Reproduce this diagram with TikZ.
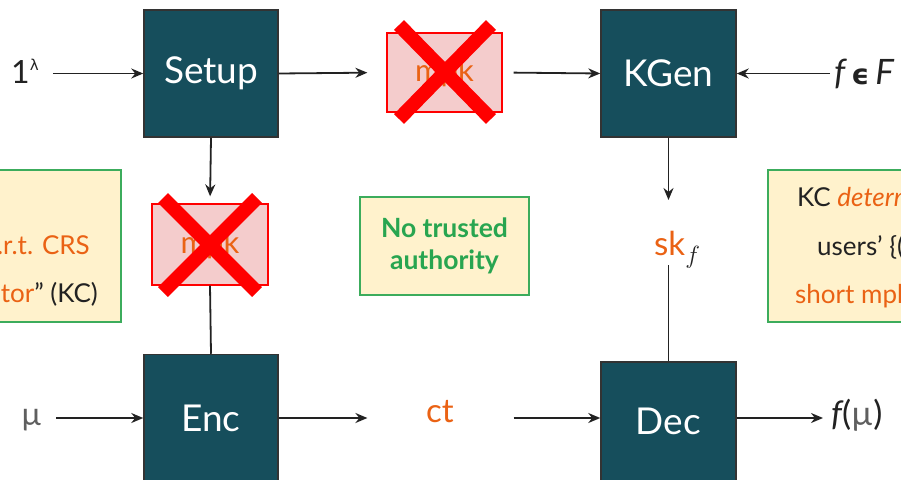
\documentclass[tikz,border=0pt]{standalone}
\usepackage{fontspec}
\setmainfont{Lato}
\newfontfamily\dejavu{DejaVu Sans}
\usetikzlibrary{arrows.meta}
\definecolor{boxteal}{RGB}{22,78,92}
\definecolor{orng}{RGB}{234,98,20}
\definecolor{notegreen}{RGB}{60,172,92}
\definecolor{notetext}{RGB}{40,165,80}
\definecolor{noteyellow}{RGB}{255,242,204}
\definecolor{mpkfill}{RGB}{244,204,204}
\definecolor{ink}{RGB}{34,34,34}
\definecolor{mugray}{RGB}{95,95,95}
\tikzset{
  blk/.style={draw=black!80, line width=1.5pt, fill=boxteal, text=white,
    font=\fontsize{37}{42}\selectfont, inner sep=0pt,
    minimum width=134pt, minimum height=127pt},
  arr/.style={-{Stealth[length=12pt,width=10pt]}, line width=1.8pt, draw=ink},
  ln/.style={line width=1.8pt, draw=ink},
  lbl/.style={inner sep=0pt, text=ink, font=\fontsize{32}{36}\selectfont},
  notetxt/.style={inner sep=0pt, text=ink, font=\fontsize{26}{30}\selectfont},
  mpkbox/.style={draw=red, line width=1.2pt, fill=mpkfill, text=orng,
    font=\fontsize{31}{36}\selectfont, inner sep=0pt},
  xline/.style={draw=red, line width=14pt},
  note/.style={draw=notegreen, line width=1.6pt, fill=noteyellow, inner sep=0pt}
}
\begin{document}
\begin{tikzpicture}[x=1pt,y=-1pt]
\useasboundingbox (0,0) rectangle (901,479);
\clip (0,0) rectangle (901,479);

% notes
\node[note, minimum width=190pt, minimum height=152pt] (lnote) at (26,246) {};
\node[note, minimum width=200pt, minimum height=152pt] (rnote) at (868,246) {};
\node[note, minimum width=169pt, minimum height=98pt, text=notetext,
  font=\fontsize{26.5}{32}\selectfont\bfseries, align=center] (trust) at (444.5,246)
  {No trusted\\authority};

\node[notetxt, anchor=base east] (l2) at (90,254) {\color{orng}w.r.t. CRS};
\node[notetxt, anchor=base east] (l3) at (98,302) {\color{orng}tor\color{ink}” (KC)};
\node[notetxt, anchor=base west] (r1) at (797,206) {KC \textcolor{orng}{\itshape determ}};
\node[notetxt, anchor=base west] (r2) at (817,255) {users’ \{(};
\node[notetxt, anchor=base west] (r3) at (795,303) {\color{orng}short mpk};

% main boxes
\node[blk] (setup) at (211,73.5) {Setup};
\node[blk, minimum width=135pt] (kgen) at (668.5,73.5) {KGen};
\node[blk] (enc) at (211,418) {Enc};
\node[blk, minimum width=135pt, minimum height=126pt] (dec) at (668.5,425) {\raisebox{7pt}{Dec}};

% crossed mpk boxes
\node[mpkbox, minimum width=115pt, minimum height=79pt] (mpk1) at (444.5,72.5) {mpk};
\node[mpkbox, minimum width=116pt, minimum height=81pt] (mpk2) at (210,244.5) {mpk};
\draw[xline] (399,25) -- (491,119);
\draw[xline] (491,25) -- (399,119);
\draw[xline] (163,198) -- (257,292);
\draw[xline] (257,198) -- (163,292);

% labels
\node[lbl, anchor=base west] (one) at (11,83) {1\raisebox{13pt}{\fontsize{15}{16}\selectfont\dejavu λ}};
\node[lbl, anchor=base west, font=\fontsize{35}{38}\selectfont] (fF) at (834,84)
  {\itshape f\kern6pt{\upshape\fontsize{28}{30}\selectfont\dejavu\bfseries ϵ}\kern6pt F};
\node[lbl, anchor=base west, text=mugray] (mu) at (21,425) {µ};
\node[lbl, anchor=base west, font=\fontsize{34}{38}\selectfont] (fmu) at (831,425) {\itshape f\upshape(\textcolor{mugray}{µ})};
\node[lbl, text=orng, font=\fontsize{33}{38}\selectfont] (ct) at (440,412) {ct};
\node[lbl, anchor=base west, font=\fontsize{33}{38}\selectfont] (sk) at (654,255) {\textcolor{orng}{sk}$_{f}$};

% connectors
\draw[arr, shorten <=14pt] (one.east |- setup.west) -- (setup.west);
\draw[arr, shorten >=19pt] (setup.east) -- (mpk1.west);
\draw[arr, shorten <=11pt] (mpk1.east) -- (kgen.west);
\draw[arr, shorten <=4pt] (fF.west |- kgen.east) -- (kgen.east);
\draw[arr, shorten >=7pt] (setup.south) -- (mpk2.north);
\draw[ln] (mpk2.south) -- (enc.north);
\draw[arr] (kgen.south) -- (kgen.south |- 0,200) coordinate (skTop);
\draw[ln] (kgen.south |- 0,265) coordinate (skBot) -- (dec.north);
\draw[arr, shorten <=14pt] (mu.east |- enc.west) -- (enc.west);
\draw[arr, shorten >=19pt] (enc.east) -- (enc.east -| mpk1.west);
\draw[arr, shorten <=11pt] (enc.east -| mpk1.east) -- (dec.west |- enc.east);
\draw[arr, shorten >=8pt] (dec.east |- enc.east) -- (fmu.west |- enc.east);
\end{tikzpicture}
\end{document}
